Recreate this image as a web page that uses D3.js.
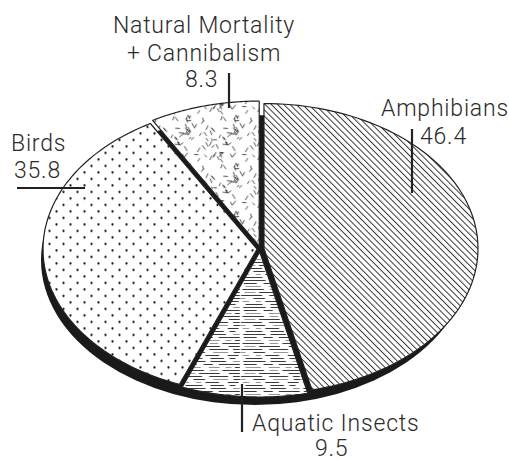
<!DOCTYPE html>
<html>
<head>
<meta charset="utf-8">
<script src="https://cdn.jsdelivr.net/npm/d3@7"></script>
<style>
  body { margin: 0; background: #fff; }
  text { font-family: Roboto, "Liberation Sans", Arial, sans-serif; font-weight: 300; font-size: 23px; fill: #2b2b2b; letter-spacing: 0.8px; }
</style>
</head>
<body>
<script>
// data
var categories = ["Amphibians", "Aquatic Insects", "Birds", "Natural Mortality + Cannibalism"];
var categoryLines = [["Amphibians"], ["Aquatic Insects"], ["Birds"], ["Natural Mortality", "+ Cannibalism"]];
var values = [46.4, 9.5, 35.8, 8.3];
var patterns = ["hatch", "dash", "dots", "confetti"];

var width = 509, height = 461;
var cx = 260, cy = 249, rx = 214, ry = 145;
var explode = 3;

var svg = d3.select("body").append("svg")
    .attr("width", width)
    .attr("height", height);

// unit circle -> ellipse
var x = d3.scaleLinear().domain([-1, 1]).range([cx - rx, cx + rx]);
var y = d3.scaleLinear().domain([-1, 1]).range([cy - ry, cy + ry]);

var defs = svg.append("defs");
var rand = d3.randomLcg(0.37);

// diagonal hatch
defs.append("pattern")
    .attr("id", "hatch")
    .attr("patternUnits", "userSpaceOnUse")
    .attr("width", 4.4).attr("height", 10)
    .attr("patternTransform", "rotate(-45)")
  .append("line")
    .attr("x1", 0.5).attr("x2", 0.5)
    .attr("y1", -1).attr("y2", 11)
    .attr("stroke", "#222").attr("stroke-width", 0.9);

// staggered dots
var pd = defs.append("pattern")
    .attr("id", "dots")
    .attr("patternUnits", "userSpaceOnUse")
    .attr("width", 14).attr("height", 13);
pd.selectAll("circle").data([[3.5, 3.25], [10.5, 9.75]]).enter().append("circle")
    .attr("cx", function(d) { return d[0]; })
    .attr("cy", function(d) { return d[1]; })
    .attr("r", 1.15)
    .attr("fill", "#111");

// horizontal dashes
var pdash = defs.append("pattern")
    .attr("id", "dash")
    .attr("patternUnits", "userSpaceOnUse")
    .attr("width", 60).attr("height", 27);
var dashes = [];
d3.range(0, 27, 3).forEach(function(row) {
  var px = rand() * 6;
  while (px < 60) {
    var len = 5 + rand() * 18;
    dashes.push({ x1: px, x2: Math.min(px + len, 60), y: row + 1.5, g: rand() < 0.35 });
    px += len + 3 + rand() * 6;
  }
});
pdash.selectAll("line").data(dashes).enter().append("line")
    .attr("x1", function(d) { return d.x1; })
    .attr("x2", function(d) { return d.x2; })
    .attr("y1", function(d) { return d.y; })
    .attr("y2", function(d) { return d.y; })
    .attr("stroke", function(d) { return d.g ? "#888" : "#222"; })
    .attr("stroke-width", 0.9);

// random short strokes
var pc = defs.append("pattern")
    .attr("id", "confetti")
    .attr("patternUnits", "userSpaceOnUse")
    .attr("width", 48).attr("height", 48);
var bits = d3.range(62).map(function() {
  var a = rand() < 0.5 ? 0.5 + (rand() - 0.5) * 0.5 : -0.6 + (rand() - 0.5) * 0.6;
  if (rand() < 0.2) a = 1.5;
  return { x: rand() * 48, y: rand() * 48, a: a, l: 3.5 + rand() * 2 };
});
pc.selectAll("line").data(bits).enter().append("line")
    .attr("x1", function(d) { return d.x - Math.sin(d.a) * d.l / 2; })
    .attr("y1", function(d) { return d.y - Math.cos(d.a) * d.l / 2; })
    .attr("x2", function(d) { return d.x + Math.sin(d.a) * d.l / 2; })
    .attr("y2", function(d) { return d.y + Math.cos(d.a) * d.l / 2; })
    .attr("stroke", "#222")
    .attr("stroke-width", 0.8);

// shadow
svg.append("ellipse")
    .attr("cx", cx - 5).attr("cy", cy + 11)
    .attr("rx", rx).attr("ry", ry)
    .attr("fill", "#1a1a1a");

var pie = d3.pie().sort(null)(values);
var line = d3.line();

function slicePath(d) {
  var n = 90;
  var pts = [[x(0), y(0)]];
  d3.range(n + 1).forEach(function(i) {
    var a = d.startAngle + (d.endAngle - d.startAngle) * i / n;
    pts.push([x(Math.sin(a)), y(-Math.cos(a))]);
  });
  return line(pts) + "Z";
}

var slices = svg.selectAll("g.slice").data(pie).enter().append("g")
    .attr("class", "slice")
    .attr("transform", function(d) {
      var m = (d.startAngle + d.endAngle) / 2;
      var e = d.index === 0 ? explode + 1 : explode;
      return "translate(" + (e * Math.sin(m)) + "," + (-e * Math.cos(m)) + ")";
    });

slices.append("path")
    .attr("d", slicePath)
    .attr("fill", "#fff");
slices.append("path")
    .attr("d", slicePath)
    .attr("fill", function(d, i) { return "url(#" + patterns[i] + ")"; })
    .attr("stroke", "#222")
    .attr("stroke-width", 1.2)
    .attr("stroke-linejoin", "round");

// labels
var labelLayout = [
  { pos: [[381, 116, "start"]], val: [420, 144, "start"], tick: [[412, 129], [412, 193]] },
  { pos: [[252, 431, "start"]], val: [315, 456, "start"], tick: [[242, 384], [242, 432]] },
  { pos: [[11, 151, "start"]], val: [14, 178, "start"], tick: [[17, 188], [85, 188]] },
  { pos: [[204, 33, "middle"], [204, 61, "middle"]], val: [185, 87, "start"], tick: [[229, 73], [229, 108]] }
];

var labels = svg.selectAll("g.label").data(labelLayout).enter().append("g")
    .attr("class", "label");

labels.each(function(L, i) {
  var g = d3.select(this);
  categoryLines[i].forEach(function(t, j) {
    g.append("text")
      .attr("x", L.pos[j][0]).attr("y", L.pos[j][1])
      .attr("text-anchor", L.pos[j][2])
      .text(t);
  });
  g.append("text")
    .attr("x", L.val[0]).attr("y", L.val[1])
    .attr("text-anchor", L.val[2])
    .text(d3.format(".1f")(values[i]));
  g.append("path")
    .attr("d", line(L.tick))
    .attr("stroke", "#222")
    .attr("stroke-width", 2.2);
});
</script>
</body>
</html>
